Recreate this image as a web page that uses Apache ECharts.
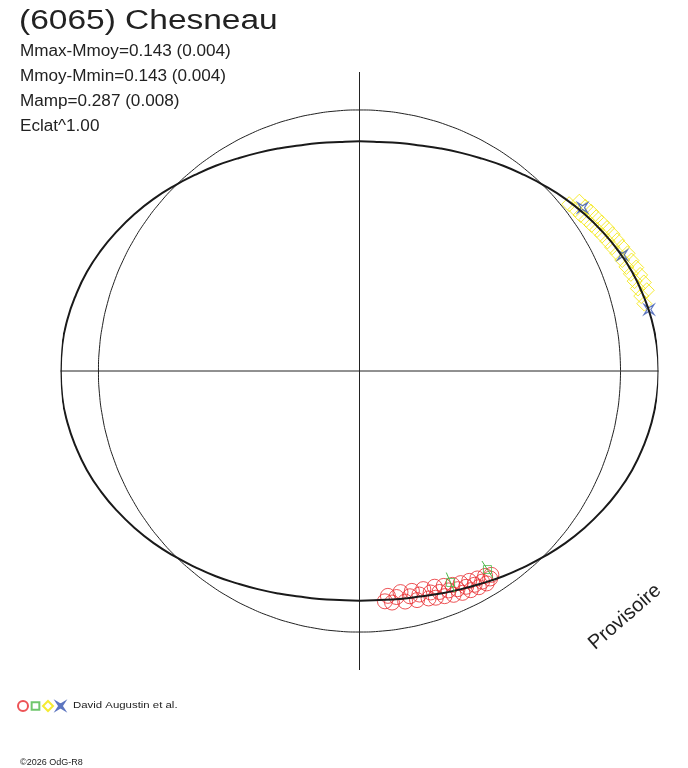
<!DOCTYPE html>
<html>
<head>
<meta charset="utf-8">
<script src="https://cdn.jsdelivr.net/npm/echarts@6/dist/echarts.min.js"></script>
<style>
  html, body { margin: 0; padding: 0; background: #fff; }
  #chart { width: 688px; height: 768px; }
</style>
</head>
<body>
<div id="chart"></div>
<script>
// light curve drawn in polar form: angle = rotation phase (deg), radius = relative flux
var titleText = '(6065) Chesneau';
var infoLines = ['Mmax-Mmoy=0.143 (0.004)', 'Mmoy-Mmin=0.143 (0.004)', 'Mamp=0.287 (0.008)', 'Eclat^1.00'];
var observer = 'David Augustin et al.';
var stamp = '\u00a92026 OdG-R8';

// sampling angles for the two reference curves
var angles = [0, 5, 10, 15, 20, 25, 30, 35, 40, 45, 50, 55, 60, 65, 70, 75, 80, 85, 90,
  95, 100, 105, 110, 115, 120, 125, 130, 135, 140, 145, 150, 155, 160, 165, 170, 175, 180,
  185, 190, 195, 200, 205, 210, 215, 220, 225, 230, 235, 240, 245, 250, 255, 260, 265, 270,
  275, 280, 285, 290, 295, 300, 305, 310, 315, 320, 325, 330, 335, 340, 345, 350, 355, 360];

// mean flux circle
var meanFlux = 0.873;

// model curve
var curveFlux = [1.000, 0.998, 0.992, 0.982, 0.970, 0.954, 0.936, 0.917, 0.897, 0.876, 0.856, 0.838, 0.820, 0.805, 0.792, 0.781, 0.774, 0.769, 0.768,
  0.769, 0.774, 0.781, 0.792, 0.805, 0.820, 0.838, 0.856, 0.876, 0.897, 0.917, 0.936, 0.954, 0.970, 0.982, 0.992, 0.998, 0.999,
  0.998, 0.992, 0.982, 0.970, 0.954, 0.936, 0.917, 0.897, 0.876, 0.856, 0.838, 0.820, 0.805, 0.792, 0.781, 0.774, 0.769, 0.768,
  0.769, 0.774, 0.781, 0.792, 0.805, 0.820, 0.838, 0.856, 0.876, 0.897, 0.917, 0.936, 0.954, 0.970, 0.982, 0.992, 0.998, 1.000];

// session 1 (red circles)
var redPhase = [276.3, 277.2, 278.0, 279.3, 280.5, 281.2, 282.6, 283.4, 284.1, 285.0, 286.3, 286.9,
  287.8, 288.6, 289.2, 289.9, 290.7, 291.4, 292.1, 292.8, 293.5, 294.2, 294.9, 295.5, 296.3, 296.9,
  297.6, 298.3, 298.9, 299.6, 300.2, 300.9, 301.5, 302.2, 302.9];
var redFlux = [0.775, 0.758, 0.782, 0.766, 0.752, 0.786, 0.772, 0.756, 0.790, 0.774, 0.760, 0.795,
  0.778, 0.800, 0.764, 0.786, 0.805, 0.772, 0.792, 0.812, 0.780, 0.800, 0.818, 0.786, 0.805, 0.822,
  0.792, 0.812, 0.826, 0.798, 0.815, 0.828, 0.804, 0.820, 0.812];

// session 2 (green squares)
var greenPhase = [293.3, 302.8];
var greenFlux = [0.770, 0.790];
var greenErr = [0.036, 0.034];

// session 3 (yellow diamonds)
var yellowPhase = [38.5, 37.6, 36.8, 36.0, 35.2, 34.5, 33.7, 33.0, 32.2, 31.5, 30.7, 30.0, 29.2,
  28.4, 27.6, 26.9, 26.1, 25.3, 24.5, 23.7, 22.9, 22.1, 21.3, 20.5, 19.7, 18.9, 18.1, 17.3, 16.5,
  15.7, 14.9, 14.1, 13.3, 12.6];
var yellowFlux = [0.896, 0.928, 0.902, 0.934, 0.905, 0.940, 0.912, 0.944, 0.917, 0.950, 0.924, 0.956, 0.930,
  0.962, 0.936, 0.966, 0.941, 0.972, 0.948, 0.979, 0.954, 0.982, 0.958, 0.988, 0.964, 0.992, 0.968, 0.996, 0.971,
  0.998, 0.975, 1.001, 0.979, 1.002];

// session 4 (blue stars)
var bluePhase = [36.2, 23.8, 12.0];
var blueFlux = [0.925, 0.961, 0.990];

function pairs(phase, flux) {
  return phase.map(function (p, i) { return [flux[i], p]; });
}

var greenBars = [];
greenPhase.forEach(function (p, i) {
  greenBars.push([greenFlux[i] - greenErr[i], p], [greenFlux[i] + greenErr[i], p], '-');
});

var starPath = 'path://M0,0 L5,3.2 L10,0 L6.8,5 L10,10 L5,6.8 L0,10 L3.2,5 Z';
// legend icons get a little empty margin so they draw smaller than the box
var starIcon = 'path://M-2,-2 L-2,-2 M0,0 L5,3.2 L10,0 L6.8,5 L10,10 L5,6.8 L0,10 L3.2,5 Z M12,12 L12,12';
var rectIcon = 'path://M-1.5,-1.5 L-1.5,-1.5 M0,0 L10,0 L10,10 L0,10 Z M11.5,11.5 L11.5,11.5';
var ink = '#222';

var chart = echarts.init(document.getElementById('chart'));
chart.setOption({
  backgroundColor: '#fff',
  animation: false,
  polar: { center: [359.5, 371], radius: 299 },
  angleAxis: {
    type: 'value', min: 0, max: 360, interval: 90, startAngle: 0, clockwise: false,
    axisLine: { show: false }, axisTick: { show: false }, axisLabel: { show: false },
    splitLine: { show: true, lineStyle: { color: ink, width: 1 } }
  },
  radiusAxis: {
    type: 'value', min: 0, max: 1,
    axisLine: { show: false }, axisTick: { show: false }, axisLabel: { show: false },
    splitLine: { show: false }
  },
  legend: {
    left: 12, top: 695, itemGap: 0.5, itemWidth: 10, itemHeight: 10,
    data: [
      { name: 'S1', icon: 'circle' },
      { name: 'S2', icon: rectIcon },
      { name: 'S3', icon: 'diamond' },
      { name: 'S4', icon: starIcon }
    ],
    formatter: function () { return ''; },
    selectedMode: false
  },
  graphic: [
    { type: 'text', x: 19, y: 22, scaleX: 1.24, style: { text: titleText, font: '27px "Liberation Sans", Arial', fill: ink, verticalAlign: 'middle' } },
    { type: 'text', x: 20, y: 52, scaleX: 1.07, style: { text: infoLines[0], font: '16px "Liberation Sans", Arial', fill: ink, verticalAlign: 'middle' } },
    { type: 'text', x: 20, y: 77, scaleX: 1.07, style: { text: infoLines[1], font: '16px "Liberation Sans", Arial', fill: ink, verticalAlign: 'middle' } },
    { type: 'text', x: 20, y: 102, scaleX: 1.07, style: { text: infoLines[2], font: '16px "Liberation Sans", Arial', fill: ink, verticalAlign: 'middle' } },
    { type: 'text', x: 20, y: 127, scaleX: 1.07, style: { text: infoLines[3], font: '16px "Liberation Sans", Arial', fill: ink, verticalAlign: 'middle' } },
    { type: 'text', x: 625, y: 617, rotation: 41 * Math.PI / 180, style: { text: 'Provisoire', font: '20px "Liberation Sans", Arial', fill: ink, align: 'center', verticalAlign: 'middle' } },
    { type: 'text', x: 73, y: 705, scaleX: 1.2, style: { text: observer, font: '9.5px "Liberation Sans", Arial', fill: ink, verticalAlign: 'middle' } },
    { type: 'text', x: 20, y: 763, style: { text: stamp, font: '9px "Liberation Sans", Arial', fill: ink, verticalAlign: 'middle' } }
  ],
  series: [
    {
      name: 'mean', type: 'line', coordinateSystem: 'polar', smooth: true, symbol: 'none', silent: true,
      data: angles.map(function (a) { return [meanFlux, a]; }),
      lineStyle: { color: ink, width: 1 }
    },
    {
      name: 'model', type: 'line', coordinateSystem: 'polar', smooth: true, symbol: 'none', silent: true,
      data: pairs(angles, curveFlux),
      lineStyle: { color: '#1a1a1a', width: 2 }
    },
    {
      name: 'S1', type: 'scatter', coordinateSystem: 'polar', symbol: 'circle', symbolSize: 15,
      data: pairs(redPhase, redFlux),
      itemStyle: { color: 'rgba(0,0,0,0)', borderColor: '#e8282c', borderWidth: 1 }
    },
    {
      name: 'S2err', type: 'line', coordinateSystem: 'polar', symbol: 'none', silent: true,
      data: greenBars, lineStyle: { color: '#4cb848', width: 1 }
    },
    {
      name: 'S2', type: 'scatter', coordinateSystem: 'polar', symbol: 'rect', symbolSize: 8,
      data: pairs(greenPhase, greenFlux),
      itemStyle: { color: 'rgba(0,0,0,0)', borderColor: '#4cb848', borderWidth: 1 }
    },
    {
      name: 'S3', type: 'scatter', coordinateSystem: 'polar', symbol: 'diamond', symbolSize: 15,
      data: pairs(yellowPhase, yellowFlux),
      itemStyle: { color: 'rgba(0,0,0,0)', borderColor: '#f2e600', borderWidth: 1 }
    },
    {
      name: 'S4', type: 'scatter', coordinateSystem: 'polar', symbol: starPath, symbolSize: 10,
      data: pairs(bluePhase, blueFlux),
      itemStyle: { color: 'rgba(0,0,0,0)', borderColor: '#3352b0', borderWidth: 1.2 }
    }
  ]
});
</script>
</body>
</html>
